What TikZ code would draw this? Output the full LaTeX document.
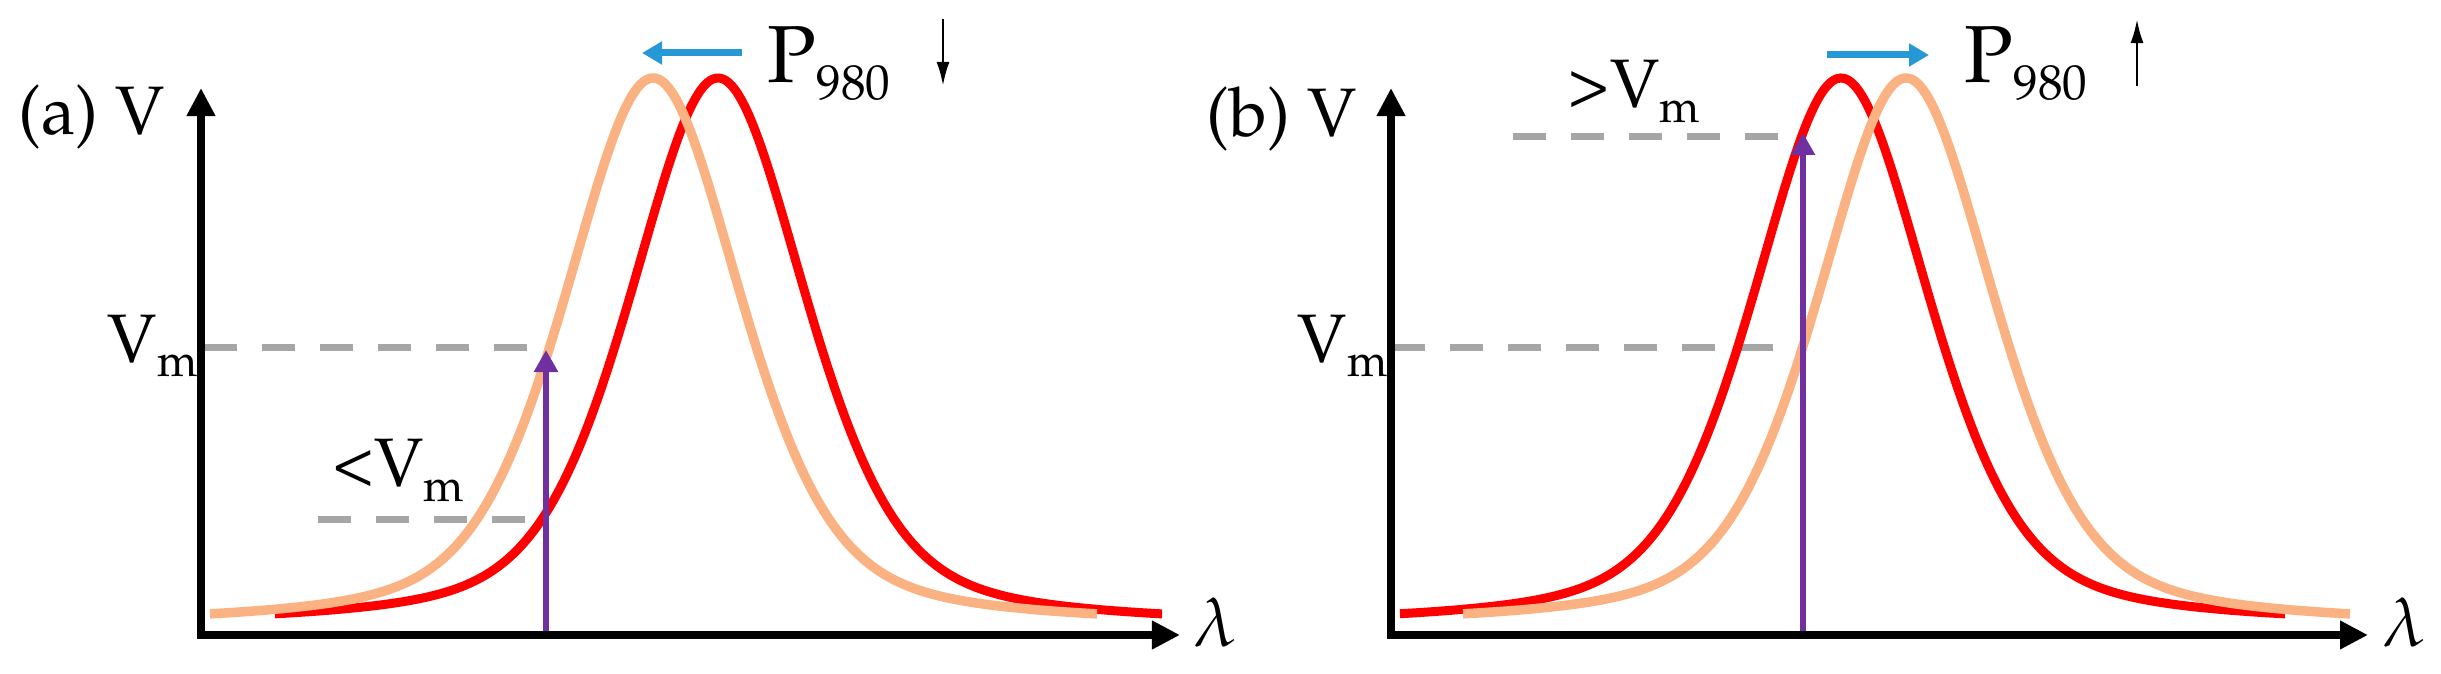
\documentclass[tikz,border=0pt]{standalone}
\usepackage[T1]{fontenc}
\usepackage{mathpazo}
\usetikzlibrary{arrows.meta}
\definecolor{peach}{RGB}{250,178,130}
\definecolor{purp}{RGB}{112,48,160}
\definecolor{skyb}{RGB}{38,152,214}
\definecolor{dgray}{RGB}{166,166,166}
\newcommand{\mainf}{\fontsize{19.5pt}{20pt}\selectfont}
\newcommand{\bigf}{\fontsize{23pt}{24pt}\selectfont}
\newcommand{\subf}{\fontsize{14pt}{15pt}\selectfont}
\newcommand{\msub}{\fontsize{13pt}{14pt}\selectfont}
\begin{document}
\begin{tikzpicture}[x=0.01cm,y=-0.01cm,
  declare function={pv(\t)=0.45/(1+\t*\t)+0.55*exp(-0.693*\t*\t);},
  axisln/.style={line width=0.08cm,{Triangle[width=0.27cm,length=0.28cm]}-{Triangle[width=0.27cm,length=0.28cm]}},
  redc/.style={draw=red,line width=0.09cm},
  orc/.style={draw=peach,line width=0.095cm},
  dashln/.style={draw=dgray,line width=0.07cm,dash pattern=on 0.33cm off 0.25cm},
  purparr/.style={draw=purp,line width=0.06cm,-{Triangle[width=0.23cm,length=0.22cm]}},
  bluearr/.style={draw=skyb,line width=0.07cm,-{Triangle[width=0.22cm,length=0.2cm]}},
  thinarr/.style={draw=black,line width=0.028cm,-{Latex[width=0.13cm,length=0.24cm]}},
  lab/.style={inner sep=0pt,anchor=base west,font=\mainf}]
\useasboundingbox (0,0) rectangle (2441,674);

% ---------- coordinates ----------
\coordinate (yA) at (201,88);
\coordinate (oA) at (201,635);
\coordinate (xA) at (1180,635);
\coordinate (yB) at (1391,88);
\coordinate (oB) at (1391,635);
\coordinate (xB) at (2368,635);

\coordinate (vmA1) at (527,348);  \coordinate (vmA0) at (201,348);
\coordinate (ltA1) at (525,520);  \coordinate (ltA0) at (317,520);
\coordinate (vmB1) at (1773,348); \coordinate (vmB0) at (1391,348);
\coordinate (gtB1) at (1778,137); \coordinate (gtB0) at (1512,137);

\coordinate (pA0) at (546,635); \coordinate (pA1) at (546,350);
\coordinate (pB0) at (1803,635); \coordinate (pB1) at (1803,133);

\coordinate (bA0) at (742,53); \coordinate (bA1) at (642,53);
\coordinate (bB0) at (1827,55); \coordinate (bB1) at (1929,55);

\coordinate (tA0) at (943,19); \coordinate (tA1) at (943,86);
\coordinate (tB0) at (2137,86); \coordinate (tB1) at (2137,19);

% ---------- dashed levels ----------
\draw[dashln] (vmA1) -- (vmA0);
\draw[dashln] (ltA1) -- (ltA0);
\draw[dashln] (vmB1) -- (vmB0);
\draw[dashln] (gtB1) -- (gtB0);

% ---------- curves ----------
\draw[redc] plot[domain=275:1162,samples=220,smooth] (\x,{627-549*pv((\x-718)/105)});
\draw[orc]  plot[domain=210:1097,samples=220,smooth] (\x,{627-549*pv((\x-653)/105)});
\draw[redc] plot[domain=1400:2285,samples=220,smooth] (\x,{627-549*pv((\x-1841)/105)});
\draw[orc]  plot[domain=1463:2350,samples=220,smooth] (\x,{627-549*pv((\x-1906)/105)});

% ---------- purple arrows ----------
\draw[purparr] (pA0) -- (pA1);
\draw[purparr] (pB0) -- (pB1);

% ---------- axes ----------
\draw[axisln] (yA) |- (xA);
\draw[axisln] (yB) |- (xB);

% ---------- blue shift arrows ----------
\draw[bluearr] (bA0) -- (bA1);
\draw[bluearr] (bB0) -- (bB1);

% ---------- thin arrows ----------
\draw[thinarr] (tA0) -- (tA1);
\draw[thinarr] (tB0) -- (tB1);

% ---------- labels ----------
\node[lab] (labA) at (18,135) {(a) V};
\node[lab] (labB) at (1206,137) {(b) V};
\node[lab] (lamA) at (1193,647) {$\lambda$};
\node[lab] (lamB) at (2382,647) {$\lambda$};
\node[lab] (vmlA) at (107,363) {V\raisebox{-0.14cm}{\msub m}};
\node[lab] (vmlB) at (1297,363) {V\raisebox{-0.14cm}{\msub m}};
\node[lab] (ltl) at (332,487) {\textless V\raisebox{-0.15cm}{\msub m}};
\node[lab] (gtl) at (1568,108) {\textgreater V\raisebox{-0.15cm}{\msub m}};
\node[lab,font=\bigf] (pA) at (767,83) {P\raisebox{-0.17cm}{\subf 980}};
\node[lab,font=\bigf] (pB) at (1964,83) {P\raisebox{-0.17cm}{\subf 980}};
\end{tikzpicture}
\end{document}
